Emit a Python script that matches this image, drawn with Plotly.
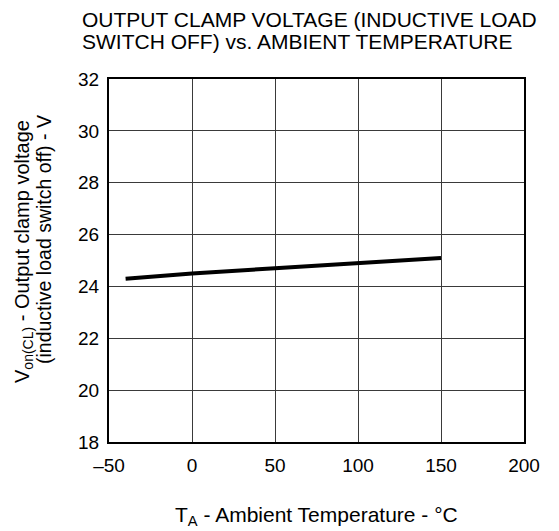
import plotly.graph_objects as go

# Data
temperature_c = [-40, 0, 50, 100, 150]
clamp_voltage_v = [24.3, 24.5, 24.7, 24.9, 25.1]

x_tick_vals = [-50, 0, 50, 100, 150, 200]
x_tick_text = ["\u201350", "0", "50", "100", "150", "200"]
y_tick_vals = [18, 20, 22, 24, 26, 28, 30, 32]
y_tick_text = ["18", "20", "22", "24", "26", "28", "30", "32"]

title_line1 = "OUTPUT CLAMP VOLTAGE (INDUCTIVE LOAD"
title_line2 = "SWITCH OFF) vs. AMBIENT TEMPERATURE"
x_title = "T<sub>A</sub> - Ambient Temperature - \u00b0C"
y_title1 = "V<sub>on(CL)</sub> - Output clamp voltage"
y_title2 = "(inductive load switch off) - V"

FONT = "Liberation Sans, Arial, sans-serif"

fig = go.Figure()
fig.add_trace(go.Scatter(
    x=temperature_c, y=clamp_voltage_v, mode="lines",
    line=dict(color="black", width=4), showlegend=False, hoverinfo="skip",
))

# page has an 8px body margin; figure coordinates = page coordinates - 8
OFF = 8
W, H = 559 - OFF, 531 - OFF
L, R, T, B = 109 - OFF, 35, 79 - OFF, 89
pw, ph = W - L - R, H - T - B

def px_x(x):
    return (x - OFF - L) / pw

def px_y(y):
    return (H - B - (y - OFF)) / ph

axis_common = dict(
    showgrid=True, gridcolor="#3a3a3a", gridwidth=1,
    showline=True, linecolor="black", linewidth=2, mirror=True,
    zeroline=False, ticks="outside", tickcolor="rgba(0,0,0,0)",
    tickfont=dict(family=FONT, size=19, color="black"),
)

fig.update_layout(
    width=W, height=H,
    margin=dict(l=L, r=R, t=T, b=B, pad=0),
    paper_bgcolor="white", plot_bgcolor="white",
    font=dict(family=FONT, color="black"),
    xaxis=dict(range=[-50, 200], tickvals=x_tick_vals, ticktext=x_tick_text,
               ticklen=5, **axis_common),
    yaxis=dict(range=[18, 32], tickvals=y_tick_vals, ticktext=y_tick_text,
               ticklen=4, **axis_common),
)

annos = [
    dict(text=title_line1, x=px_x(79.5), y=px_y(19), xanchor="left", yanchor="middle",
         font=dict(size=21)),
    dict(text=title_line2, x=px_x(79.5), y=px_y(41.5), xanchor="left", yanchor="middle",
         font=dict(size=21)),
    dict(text=x_title, x=0.5, y=px_y(516), xanchor="center", yanchor="middle",
         font=dict(size=21)),
    dict(text=y_title1, x=px_x(23), y=px_y(252), xanchor="center", yanchor="middle",
         textangle=-90, font=dict(size=20)),
    dict(text=y_title2, x=px_x(44), y=px_y(240), xanchor="center", yanchor="middle",
         textangle=-90, font=dict(size=19.5)),
]
for a in annos:
    fig.add_annotation(xref="paper", yref="paper", showarrow=False, **a)

fig.write_html("out.html")
